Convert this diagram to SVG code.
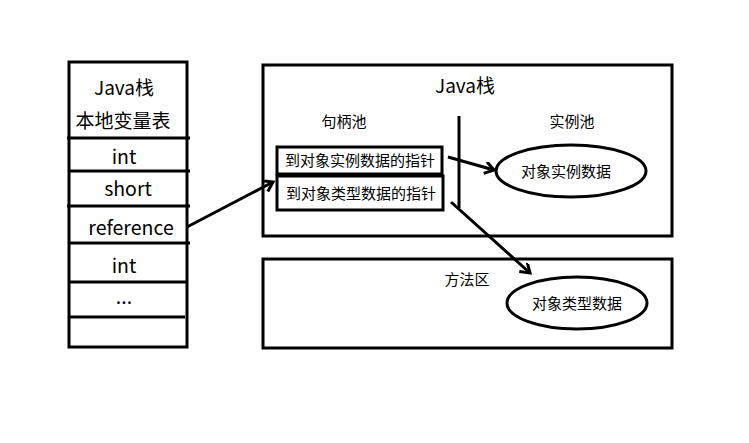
<svg xmlns="http://www.w3.org/2000/svg" width="749" height="443" viewBox="0 0 749 443">
<style>
.box{fill:none;stroke:#000;stroke-width:3}
.ln{stroke:#000;stroke-width:3;fill:none}
.t{font-family:"Noto Sans CJK SC","Noto Sans",sans-serif;fill:#000;text-anchor:middle}
.l{font-size:19px}
.lt{font-size:19.5px}
.s{font-size:15px}
.s14{font-size:15px}
.arr{stroke:#000;stroke-width:3;fill:none}
</style>
<defs>
<marker id="ah" markerWidth="14" markerHeight="14" refX="10" refY="6" orient="auto" markerUnits="userSpaceOnUse">
<path d="M1,0 L10,6 L1,12" fill="none" stroke="#000" stroke-width="3"/>
</marker>
</defs>
<rect width="749" height="443" fill="#fff"/>
<g id="local-var-table">
<rect class="box" x="69" y="62" width="118" height="285"/>
<line class="ln" x1="67" y1="138" x2="190" y2="138"/>
<line class="ln" x1="69" y1="171" x2="190" y2="171"/>
<line class="ln" x1="67" y1="206" x2="190" y2="206"/>
<line class="ln" x1="69" y1="243" x2="190" y2="243"/>
<line class="ln" x1="69" y1="282" x2="187" y2="282"/>
<line class="ln" x1="69" y1="317" x2="185" y2="317"/>
<text class="t l" x="124" y="95">Java栈</text>
<text class="t l" x="123" y="128">本地变量表</text>
<text class="t lt" x="124" y="164">int</text>
<text class="t lt" x="128" y="196">short</text>
<text class="t lt" x="131" y="235">reference</text>
<text class="t lt" x="124" y="273">int</text>
<text class="t lt" x="124" y="304">...</text>
</g>
<g id="java-stack">
<rect class="box" x="263" y="65" width="409" height="171"/>
<text class="t l" x="465" y="93">Java栈</text>
<text class="t s" x="344" y="127">句柄池</text>
<text class="t s" x="572" y="127">实例池</text>
<line class="ln" x1="459" y1="116" x2="459" y2="208"/>
</g>
<g id="ptr-instance">
<rect class="box" x="277" y="147" width="165" height="27"/>
<text class="t s14" x="360" y="166">到对象实例数据的指针</text>
</g>
<g id="ptr-type">
<rect class="box" x="277" y="176" width="166" height="34"/>
<text class="t s14" x="361" y="199">到对象类型数据的指针</text>
</g>
<g id="instance-data">
<ellipse class="box" cx="571" cy="171" rx="75" ry="26"/>
<text class="t s" x="566" y="177">对象实例数据</text>
</g>
<g id="method-area">
<rect class="box" x="263" y="259" width="409" height="89"/>
<text class="t s" x="467" y="285">方法区</text>
</g>
<g id="type-data">
<ellipse class="box" cx="577" cy="303" rx="70" ry="26"/>
<text class="t s" x="577" y="309">对象类型数据</text>
</g>
<g id="connectors">
<line class="arr" x1="187" y1="227" x2="273" y2="182" marker-end="url(#ah)"/>
<line class="arr" x1="448" y1="157" x2="494" y2="170" marker-end="url(#ah)"/>
<line class="arr" x1="451" y1="202" x2="530" y2="273" marker-end="url(#ah)"/>
</g>
</svg>
